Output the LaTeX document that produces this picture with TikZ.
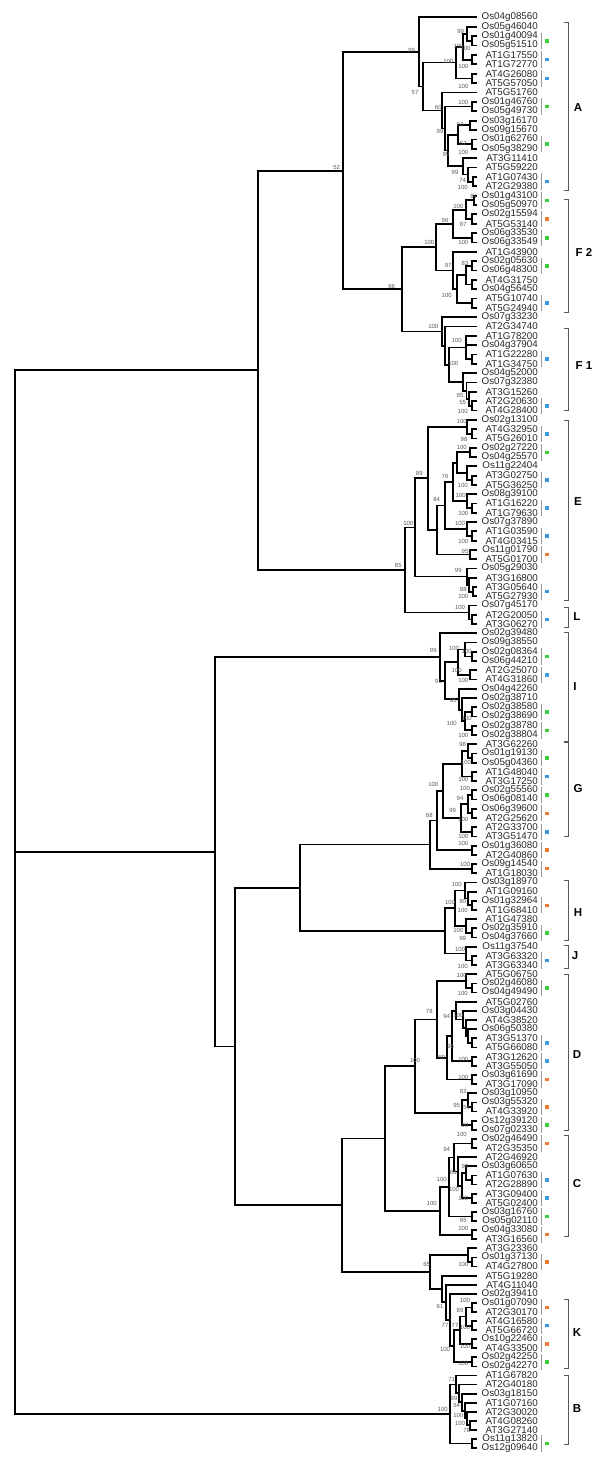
\documentclass[tikz,border=0pt]{standalone}
\usepackage{fontspec}
\setmainfont{Liberation Sans}
\usetikzlibrary{calc}
\definecolor{cg}{HTML}{3DCC3D}
\definecolor{cb}{HTML}{3A9BE0}
\definecolor{co}{HTML}{EE7A33}
\tikzset{
  br/.style={line width=1.8pt, black, line cap=rect},
  lab/.style={anchor=east, inner sep=0, font=\fontsize{9.8}{10}\selectfont, text=black!85},
  bs/.style={inner sep=0, font=\fontsize{6}{6}\selectfont, text=black!65},
  gbar/.style={draw=black!40, line width=0.8pt},
  sq/.style={rectangle, inner sep=0, minimum size=3.6pt, draw=none},
  brk/.style={draw=black!65, line width=0.9pt},
  grp/.style={inner sep=0, font=\fontsize{11.5}{12}\selectfont\bfseries}
}
\newcommand\nd[3]{%
  \foreach \c [count=\k] in {#3} {\ifnum\k=1 \xdef\ndfirst{\c}\fi\xdef\ndlast{\c}}%
  \coordinate (ndtmp) at ($(\ndfirst)!0.5!(\ndlast)$);%
  \coordinate (#1) at (#2,0 |- ndtmp);%
  \foreach \c in {#3} {\draw[br] (#1) |- (\c);}%
}
\begin{document}
\begin{tikzpicture}[x=1pt,y=-1pt]
\useasboundingbox (0,0) rectangle (600,1474);
% leaves
\foreach \t [count=\n] in {Os04g08560, Os05g46040, Os01g40094, Os05g51510, AT1G17550, AT1G72770, AT4G26080, AT5G57050, AT5G51760, Os01g46760,
Os05g49730, Os03g16170, Os09g15670, Os01g62760, Os05g38290, AT3G11410, AT5G59220, AT1G07430, AT2G29380, Os01g43100,
Os05g50970, Os02g15594, AT5G53140, Os06g33530, Os06g33549, AT1G43900, Os02g05630, Os06g48300, AT4G31750, Os04g56450,
AT5G10740, AT5G24940, Os07g33230, AT2G34740, AT1G78200, Os04g37904, AT1G22280, AT1G34750, Os04g52000, Os07g32380,
AT3G15260, AT2G20630, AT4G28400, Os02g13100, AT4G32950, AT5G26010, Os02g27220, Os04g25570, Os11g22404, AT3G02750,
AT5G36250, Os08g39100, AT1G16220, AT1G79630, Os07g37890, AT1G03590, AT4G03415, Os11g01790, AT5G01700, Os05g29030,
AT3G16800, AT3G05640, AT5G27930, Os07g45170, AT2G20050, AT3G06270, Os02g39480, Os09g38550, Os02g08364, Os06g44210,
AT2G25070, AT4G31860, Os04g42260, Os02g38710, Os02g38580, Os02g38690, Os02g38780, Os02g38804, AT3G62260, Os01g19130,
Os05g04360, AT1G48040, AT3G17250, Os02g55560, Os06g08140, Os06g39600, AT2G25620, AT2G33700, AT3G51470, Os01g36080,
AT2G40860, Os09g14540, AT1G18030, Os03g18970, AT1G09160, Os01g32964, AT1G68410, AT1G47380, Os02g35910, Os04g37660,
Os11g37540, AT3G63320, AT3G63340, AT5G06750, Os02g46080, Os04g49490, AT5G02760, Os03g04430, AT4G38520, Os06g50380,
AT3G51370, AT5G66080, AT3G12620, AT3G55050, Os03g61690, AT3G17090, Os03g10950, Os03g55320, AT4G33920, Os12g39120,
Os07g02330, Os02g46490, AT2G35350, AT2G46920, Os03g60650, AT1G07630, AT2G28890, AT3G09400, AT5G02400, Os03g16760,
Os05g02110, Os04g33080, AT3G16560, AT3G23360, Os01g37130, AT4G27800, AT5G19280, AT4G11040, Os02g39410, Os01g07090,
AT2G30170, AT4G16580, AT5G66720, Os10g22460, AT4G33500, Os02g42250, Os02g42270, AT1G67820, AT2G40180, Os03g18150,
AT1G07160, AT2G30020, AT4G08260, AT3G27140, Os11g13820, Os12g09640}{
  \pgfmathsetmacro\yy{17.3+9.41*(\n-1)-0.001155*(\n-1)*(\n-1)}
  \coordinate (l\n) at (476,\yy);
  \node[lab] (t\n) at (538,\yy) {\t};
}
% clade A
\nd{a34}{472}{l3,l4}
\nd{a24}{466.7}{l2,a34}
\nd{a56}{472}{l5,l6}
\nd{aX1}{463}{a24,a56}
\nd{a78}{472}{l7,l8}
\nd{aX2}{456}{aX1,a78}
\nd{a1011}{472}{l10,l11}
\nd{a1213}{470}{l12,l13}
\nd{a1415}{472}{l14,l15}
\nd{a1215}{458}{a1213,a1415}
\nd{a1819}{473}{l18,l19}
\nd{a1719}{468}{l17,a1819}
\nd{a1619}{463}{l16,a1719}
\nd{a1219}{448}{a1215,a1619}
\nd{a99}{445}{a1011,a1219}
\nd{a60}{442}{l9,a99}
\nd{a57}{423}{aX2,a60}
\nd{nA}{419}{l1,a57}
% F2
\nd{f2021}{474}{l20,l21}
\nd{f2223}{472}{l22,l23}
\nd{f2023}{466}{f2021,f2223}
\nd{f2425}{472}{l24,l25}
\nd{f2025}{453}{f2023,f2425}
\nd{f2728}{472}{l27,l28}
\nd{f2930}{472}{l29,l30}
\nd{f2730}{466}{f2728,f2930}
\nd{f3132}{472}{l31,l32}
\nd{f2732}{457}{f2730,f3132}
\nd{f2632}{453}{l26,f2732}
\nd{nF2}{436}{f2025,f2632}
% F1
\nd{g3738}{472}{l37,l38}
\nd{g3538}{466}{l35,l36,g3738}
\nd{g4243}{472}{l42,l43}
\nd{g4143}{469}{l41,g4243}
\nd{g4043}{466.5}{l40,g4143}
\nd{g3943}{463}{l39,g4043}
\nd{g3543}{449}{g3538,g3943}
\nd{nF1}{445}{l34,g3543}
\nd{g100}{441.7}{l33,nF1}
\nd{n66}{401.7}{nF2,g100}
\nd{n52}{343}{nA,n66}
% E, L
\nd{e4546}{472}{l45,l46}
\nd{e4446}{466.7}{l44,e4546}
\nd{e4748}{470}{l47,l48}
\nd{e5051}{472}{l50,l51}
\nd{e4951}{466.7}{l49,e5051}
\nd{e4751}{457}{e4748,e4951}
\nd{e5354}{472}{l53,l54}
\nd{e5254}{467}{l52,e5354}
\nd{e76}{453.3}{e4751,e5254}
\nd{e5657}{472}{l56,l57}
\nd{e5557}{467}{l55,e5657}
\nd{e84}{445}{e76,e5557}
\nd{e5859}{470}{l58,l59}
\nd{e4759}{436.7}{e84,e5859}
\nd{e89}{428.3}{e4446,e4759}
\nd{e6263}{473}{l62,l63}
\nd{e6163}{469}{l61,e6263}
\nd{e6063}{466.7}{l60,e6163}
\nd{nE}{415}{e89,e6063}
\nd{L6566}{472}{l65,l66}
\nd{nL}{469}{l64,L6566}
\nd{nEL}{405}{nE,nL}
\nd{nU}{258}{n52,nEL}
% I
\nd{i6970}{472}{l69,l70}
\nd{i6870}{465}{l68,i6970}
\nd{i7172}{470}{l71,l72}
\nd{i6872}{458}{i6870,i7172}
\nd{i7576}{472}{l75,l76}
\nd{i7778}{472}{l77,l78}
\nd{i7578}{465}{i7576,i7778}
\nd{i7478}{462}{l74,i7578}
\nd{i7378}{459}{l73,i7478}
\nd{i91}{445}{i6872,i7378}
\nd{nI}{440}{l67,i91}
% G and neighbours
\nd{k8081}{472}{l80,l81}
\nd{k7981}{468}{l79,k8081}
\nd{k8283}{472}{l82,l83}
\nd{k7983}{462}{k7981,k8283}
\nd{k8485}{472}{l84,l85}
\nd{k8687}{472}{l86,l87}
\nd{k8487}{468}{k8485,k8687}
\nd{k8889}{472}{l88,l89}
\nd{k8489}{461}{k8487,k8889}
\nd{nG}{443}{k7983,k8489}
\nd{k9091}{472}{l90,l91}
\nd{k68}{436.7}{nG,k9091}
\nd{k9293}{472}{l92,l93}
\nd{nX}{430}{k68,k9293}
% H, J
\nd{h9697}{472}{l96,l97}
\nd{h9597}{468}{l95,h9697}
\nd{h9497}{465}{l94,h9597}
\nd{h99100}{472}{l99,l100}
\nd{h98100}{466}{l98,h99100}
\nd{nH}{455}{h9497,h98100}
\nd{j102103}{472}{l102,l103}
\nd{nJ}{466}{l101,j102103}
\nd{nHJ}{445}{nH,nJ}
% D
\nd{d105106}{472}{l105,l106}
\nd{d104106}{466}{l104,d105106}
\nd{d111112}{472}{l111,l112}
\nd{d110112}{468}{l110,d111112}
\nd{d109112}{466}{l109,d110112}
\nd{d108112}{463}{l108,d109112}
\nd{d107112}{456}{l107,d108112}
\nd{d113114}{472}{l113,l114}
\nd{d107114}{452}{d107112,d113114}
\nd{d115116}{472}{l115,l116}
\nd{d107116}{447}{d107114,d115116}
\nd{d78}{436.7}{d104106,d107116}
\nd{d118119}{472}{l118,l119}
\nd{d117119}{468}{l117,d118119}
\nd{d120121}{472}{l120,l121}
\nd{d117121}{462}{d117119,d120121}
\nd{nD}{415}{d78,d117121}
% C
\nd{c122123}{472}{l122,l123}
\nd{c126127}{472}{l126,l127}
\nd{c125127}{466}{l125,c126127}
\nd{c128129}{472}{l128,l129}
\nd{c125129}{462}{c125127,c128129}
\nd{c124129}{458}{l124,c125129}
\nd{c122129}{454}{c122123,c124129}
\nd{c130131}{472}{l130,l131}
\nd{c122131}{449}{c122129,c130131}
\nd{c132133}{472}{l132,l133}
\nd{nC}{440}{c122131,c132133}
\nd{nDC}{385}{nD,nC}
% K group
\nd{m135136}{472}{l135,l136}
\nd{m134136}{468}{l134,m135136}
\nd{m140141}{472}{l140,l141}
\nd{m142143}{472}{l142,l143}
\nd{m140143}{466}{m140141,m142143}
\nd{m144145}{472}{l144,l145}
\nd{m140145}{460}{m140143,m144145}
\nd{m146147}{472}{l146,l147}
\nd{nK}{454}{m140145,m146147}
\nd{m139147}{450}{l139,nK}
\nd{m138147}{446}{l138,m139147}
\nd{m137147}{442}{l137,m138147}
\nd{m65}{430}{m134136,m137147}
\nd{nDCK}{341.7}{nDC,m65}
% B
\nd{b155156}{472}{l155,l156}
\nd{b153154}{470}{l153,l154}
\nd{b152154}{467}{l152,b153154}
\nd{b151154}{465}{l151,b152154}
\nd{b150154}{462}{l150,b151154}
\nd{b149154}{459}{l149,b150154}
\nd{b148154}{456}{l148,b149154}
\nd{nB}{450}{b148154,b155156}
% backbone
\nd{nM3}{300}{nX,nHJ}
\nd{nM2}{235}{nM3,nDCK}
\nd{nM1}{215}{nI,nM2}
\nd{root}{15}{nU,nM1,nB}
% bootstrap values
\foreach \x/\y/\s [count=\k] in {411.7/50/99, 460.7/31.7/99, 458.5/46.5/100, 465.5/48/100, 448.3/61.7/100, 463.3/66.7/100, 463.3/86/100, 415/92.7/57, 438.3/107.3/60, 463.3/102.7/100,
460/124.3/94, 440/131.7/99, 463.3/143.3/52, 463.3/152.7/100, 446/154/99, 455/172.7/99, 462.7/180/74, 462.7/187.3/100, 336.7/167.3/52, 473.7/196.7/84,
458.3/206/100, 445/220/96, 463.3/224/87, 463.3/242.7/100, 429.3/242.7/100, 391.7/286/66, 448.3/265/97, 465/263.3/83, 446.7/295/100, 433.3/326/100,
456.7/340/100, 453.3/363.3/100, 460/395/95, 462.7/402.7/55, 462.7/411.7/100, 461.7/421.7/100, 464/439.3/98, 461.7/447.3/100, 445/476.7/76, 462.7/485/100,
419.3/473.3/89, 460.7/495/100, 436.7/499.3/84, 463.3/513.3/100, 408.3/523.3/100, 460/523.3/100, 463.3/541.7/100, 465/551.7/95, 398.3/565/85, 458.3/570/99,
463.3/589.3/88, 463.3/596.7/100, 460/607.3/100, 433.3/650/99, 454/648.3/100, 466.7/651.7/100, 456.7/670.7/100, 463.3/680/100, 438.3/681.7/91, 453.3/700/95,
466.7/718.3/100, 451.7/723.3/100, 463.3/735/100, 462.7/744/98, 466/762/100, 463.3/779.3/100, 433.3/784/100, 465/788.3/100, 460/798.3/94, 452.7/810.7/99,
463.3/819.3/100, 429.3/815/68, 463.3/836/100, 463.3/843.3/100, 465/864/100, 456.7/884/100, 462.7/901.7/90, 450/902.7/100, 462.7/910/100, 458.3/930.7/100,
462.7/938.3/99, 460/949.3/100, 462.7/966/100, 461.7/975/100, 462.7/993.3/100, 429.3/1011.7/78, 446.7/1016.7/94, 458.3/1015/100, 450.7/1046.7/96, 441.7/1057.3/69,
415/1060.7/100, 463.3/1059.3/100, 463.3/1077.3/100, 463.3/1091.7/82, 456.7/1105/95, 466.7/1107.3/54, 465/1125/99, 461.7/1134/100, 446.7/1149.3/94, 465/1166/99,
453.3/1172.7/86, 441.7/1179.3/100, 454/1189.3/100, 463.3/1198.3/100, 431.7/1203.3/100, 463.3/1220/95, 463.3/1228.3/100, 426.7/1264/65, 463.3/1264/100, 465/1300.7/100,
440/1306.7/61, 460/1310/89, 445/1325/77, 455/1325/77, 465/1327.3/100, 465/1346/100, 445/1349.3/100, 463.3/1363.3/100, 451.7/1379.3/71, 454/1398.3/99,
456.7/1405/54, 442.7/1409.3/100, 458.3/1415/100, 460/1423.3/100, 466.7/1430/78}{
  \node[bs] (bs\k) at (\x,\y) {\s};
}
% paralogous pair marks
\foreach \i/\c [count=\k] in {3/cg, 5/cb, 7/cb, 10/cg, 14/cg, 18/cb, 20/cg, 22/co, 24/cg, 27/cg, 31/cb, 37/cb, 42/cb, 45/cb, 47/cg, 50/cb, 53/cb, 56/cb, 58/co, 62/cb, 65/cb, 69/cg, 71/cb, 75/cg, 77/cg, 80/cg, 82/cb, 84/cg, 86/co, 88/cb, 90/co, 92/co, 96/co, 99/cg, 102/cb, 105/cg, 111/cb, 113/cb, 115/co, 118/co, 120/cg, 122/co, 126/cb, 128/cb, 130/cg, 132/co, 135/co, 140/co, 142/cb, 144/co, 146/cg, 155/cg}{
  \pgfmathtruncatemacro\j{\i+1}
  \draw[gbar] ($(541.7,0 |- l\i)+(0,-3.5)$) -- ($(541.7,0 |- l\j)+(0,3.5)$);
  \node[sq, fill=\c] (sq\k) at ($(547,0 |- l\i)!0.5!(547,0 |- l\j)$) {};
}
% group brackets
\foreach \a/\b in {22/190, 199/312.7, 328/410.7, 420/600, 607/627, 632.7/741, 742.5/836.7, 880.7/940, 945/968, 974/1130, 1135/1236, 1299/1368, 1375/1444}{
  \draw[brk] (563.5,\a) -- (568,\a) -- (568,\b) -- (563.5,\b);
}
\foreach \x/\y/\s [count=\k] in {578/108/A, 584/252/F 2, 584/366/F 1, 578/501.7/E, 577/617/L, 575/686.7/I, 578/789/G, 578/913/H, 575/956/J, 577/1055/D, 577/1184/C, 577/1333/K, 577/1409/B}{
  \node[grp] (grp\k) at (\x,\y) {\s};
}
\end{tikzpicture}
\end{document}
